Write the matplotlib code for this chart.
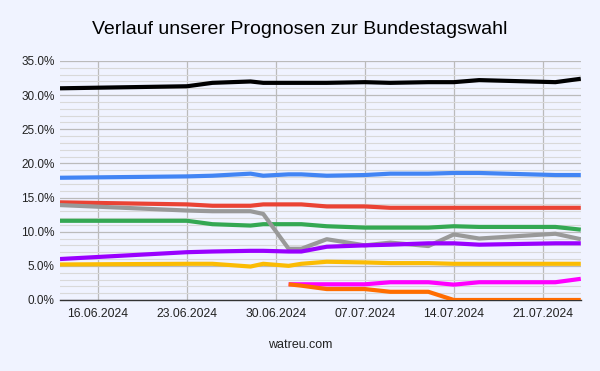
import matplotlib
matplotlib.use("Agg")
import matplotlib.pyplot as plt
import matplotlib.dates as mdates
import numpy as np
import pandas as pd

plt.rcParams['font.family'] = ['Liberation Sans', 'DejaVu Sans']

dates = ["2024-06-13", "2024-06-23", "2024-06-25", "2024-06-28", "2024-06-29",
         "2024-07-01", "2024-07-02", "2024-07-04", "2024-07-07", "2024-07-09",
         "2024-07-12", "2024-07-14", "2024-07-16", "2024-07-22", "2024-07-24"]

black = [31.0, 31.3, 31.8, 32.0, 31.8, 31.8, 31.8, 31.8, 31.9, 31.8, 31.9, 31.9, 32.2, 31.9, 32.4]
blue = [17.9, 18.1, 18.2, 18.5, 18.2, 18.4, 18.4, 18.2, 18.3, 18.5, 18.5, 18.6, 18.6, 18.3, 18.3]
red = [14.3, 14.0, 13.8, 13.8, 14.0, 14.0, 14.0, 13.7, 13.7, 13.5, 13.5, 13.5, 13.5, 13.5, 13.5]
gray = [13.9, 13.1, 13.0, 13.0, 12.6, 7.5, 7.5, 8.9, 8.0, 8.4, 7.9, 9.6, 9.0, 9.7, 8.9]
green = [11.6, 11.6, 11.1, 10.9, 11.1, 11.1, 11.1, 10.8, 10.6, 10.6, 10.6, 10.8, 10.7, 10.7, 10.3]
purple = [6.0, 7.0, 7.1, 7.2, 7.2, 7.1, 7.1, 7.8, 8.0, 8.1, 8.3, 8.3, 8.1, 8.3, 8.3]
yellow = [5.2, 5.3, 5.3, 4.9, 5.3, 5.0, 5.3, 5.6, 5.5, 5.4, 5.4, 5.3, 5.3, 5.3, 5.3]
orange = [None, None, None, None, None, 2.3, 2.1, 1.6, 1.6, 1.2, 1.2, 0.0, 0.0, 0.0, 0.0]
magenta = [None, None, None, None, None, 2.3, 2.3, 2.3, 2.3, 2.6, 2.6, 2.25, 2.6, 2.6, 3.1]

tick_dates = ["2024-06-16", "2024-06-23", "2024-06-30", "2024-07-07", "2024-07-14", "2024-07-21"]
y_ticks = [0, 5, 10, 15, 20, 25, 30, 35]

series = [
    (black, "#000000"),
    (blue, "#4285F4"),
    (red, "#EA4335"),
    (green, "#34A853"),
    (gray, "#999999"),
    (purple, "#9900FF"),
    (yellow, "#FBBC04"),
    (magenta, "#FF00FF"),
    (orange, "#FF6D01"),
]

bg = "#F0F3FF"
fig = plt.figure(figsize=(6, 3.71), dpi=100, facecolor=bg)
ax = fig.add_axes([0.1, 0.1914, 0.868, 0.6442], facecolor=bg)

x = pd.to_datetime(dates)
for vals, col in series:
    v = np.array([np.nan if a is None else a for a in vals], dtype=float)
    ax.plot(x, v, color=col, lw=3.0, solid_capstyle='butt', solid_joinstyle='round', zorder=3)

ax.set_xlim(pd.Timestamp("2024-06-13"), pd.Timestamp("2024-07-24"))
ax.set_ylim(0, 35)
ax.set_yticks(y_ticks)
ax.set_yticklabels([f"{t:.1f}%" for t in y_ticks])
ax.set_yticks(np.arange(0, 35.01, 1), minor=True)
ax.set_xticks(pd.to_datetime(tick_dates))
ax.xaxis.set_major_formatter(mdates.DateFormatter("%d.%m.%Y"))

ax.grid(which='major', axis='both', color='#BBBBBB', lw=0.9, zorder=1)
ax.grid(which='minor', axis='y', color='#D9D9D9', lw=0.8, zorder=0)
ax.tick_params(which='both', length=0)
ax.tick_params(axis='y', pad=4, labelsize=8.5, labelcolor='#222222')
ax.tick_params(axis='x', pad=6, labelsize=8.7, labelcolor='#222222')
for s in ['left', 'right', 'top']:
    ax.spines[s].set_visible(False)
ax.spines['bottom'].set_color('#333333')
ax.spines['bottom'].set_linewidth(1.0)

fig.text(0.5, 1 - 30 / 371, "Verlauf unserer Prognosen zur Bundestagswahl",
         ha='center', va='center', fontsize=14, color='#000000')
fig.text(0.5, 1 - 345 / 371, "watreu.com", ha='center', va='center',
         fontsize=9, color='#222222')

fig.savefig("out.png", dpi=100, facecolor=bg)
